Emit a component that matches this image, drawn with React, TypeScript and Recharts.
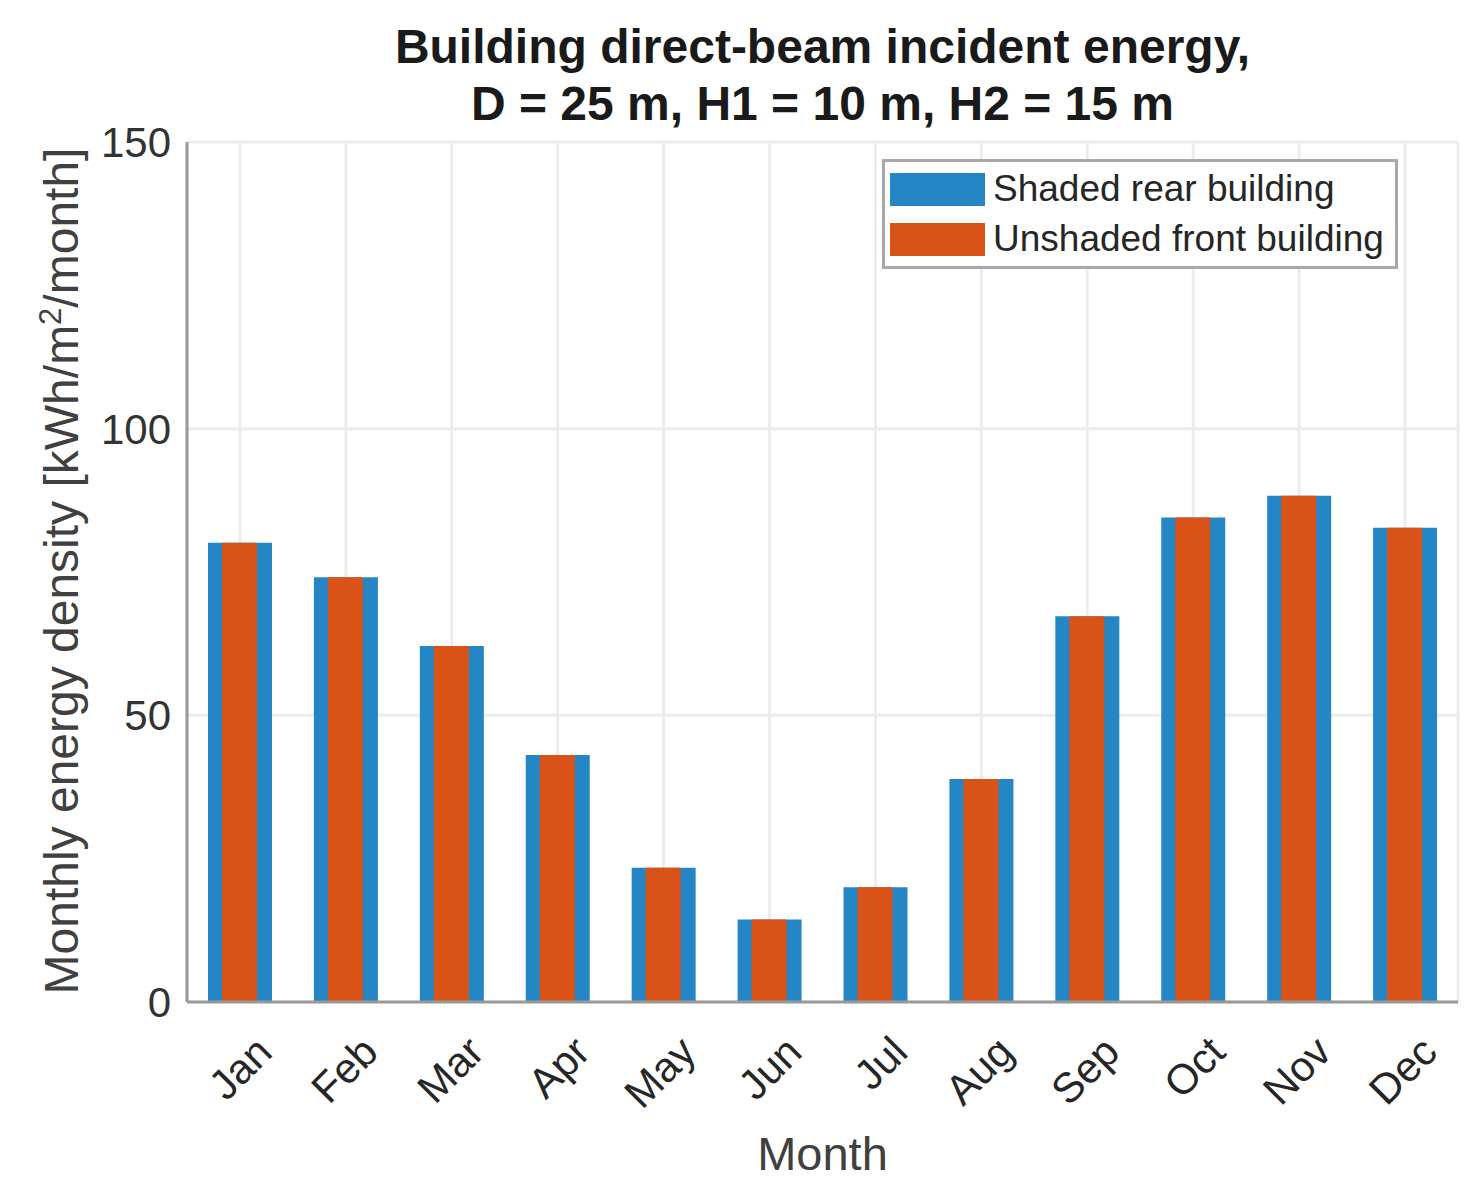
import {
  BarChart,
  Bar,
  XAxis,
  YAxis,
  CartesianGrid,
} from 'recharts';

// values (kWh/m2/month)
const months = ['Jan', 'Feb', 'Mar', 'Apr', 'May', 'Jun', 'Jul', 'Aug', 'Sep', 'Oct', 'Nov', 'Dec'];
const shadedRear = [80.1, 74.1, 62.1, 43.1, 23.4, 14.4, 20.0, 38.9, 67.3, 84.5, 88.3, 82.7];
const unshadedFront = [80.1, 74.1, 62.1, 43.1, 23.4, 14.4, 20.0, 38.9, 67.3, 84.5, 88.3, 82.7];
const yTicks = [0, 50, 100, 150];

const data = months.map((m, i) => ({
  month: m,
  shaded: shadedRear[i],
  unshaded: unshadedFront[i],
}));

const FONT = '"Liberation Sans", Arial, Helvetica, sans-serif';
const BLUE = '#2586c6';
const ORANGE = '#d95319';
const AXIS = '#9a9a9a';

function MonthTick(props: any) {
  const { x, y, payload } = props;
  const ax = x + 24;
  const ay = y + 42;
  return (
    <text
      x={ax}
      y={ay}
      dy="0.35em"
      textAnchor="end"
      transform={`rotate(-45 ${ax} ${ay})`}
      fontSize={42}
      fontFamily={FONT}
      fill="#262626"
    >
      {payload.value}
    </text>
  );
}

function LegendBox() {
  const row = (color: string, label: string) => (
    <div style={{ display: 'flex', alignItems: 'center', height: 50 }}>
      <div style={{ width: 95, height: 33, background: color, marginRight: 8, flexShrink: 0 }} />
      <span style={{ fontSize: 37, color: '#262626', whiteSpace: 'nowrap' }}>{label}</span>
    </div>
  );
  return (
    <div
      style={{
        position: 'absolute',
        left: 874,
        top: 151,
        border: '3px solid #a8a8a8',
        background: '#fff',
        padding: '2px 6px 2px 5px',
        fontFamily: FONT,
        width: 516,
        boxSizing: 'border-box',
      }}
    >
      {row(BLUE, 'Shaded rear building')}
      {row(ORANGE, 'Unshaded front building')}
    </div>
  );
}

export default function App() {
  return (
    <div style={{ position: 'relative', width: 1474, height: 1194, background: '#fff', fontFamily: FONT }}>
      <BarChart
        width={1474}
        height={1194}
        data={data}
        margin={{ top: 134, right: 24, left: 79, bottom: 110 }}
      >
        <CartesianGrid stroke="#ececec" strokeWidth={3} />
        <XAxis
          dataKey="month"
          height={90}
          interval={0}
          tickSize={0}
          tickMargin={0}
          tick={<MonthTick />}
          axisLine={{ stroke: AXIS, strokeWidth: 3 }}
          tickLine={false}
        />
        <XAxis dataKey="month" xAxisId="inner" hide />
        <XAxis
          dataKey="month"
          xAxisId="top"
          orientation="top"
          height={0}
          mirror
          tick={false}
          tickSize={10}
          axisLine={{ stroke: AXIS, strokeWidth: 3 }}
          tickLine={{ stroke: '#555', strokeWidth: 2 }}
        />
        <YAxis
          domain={[0, 150]}
          ticks={yTicks}
          width={100}
          tickSize={0}
          tickMargin={16}
          axisLine={{ stroke: AXIS, strokeWidth: 3 }}
          tickLine={false}
          tick={{ fontSize: 42, fontFamily: FONT, fill: '#333' }}
        />
        <YAxis
          yAxisId="right"
          orientation="right"
          domain={[0, 150]}
          ticks={yTicks}
          width={0}
          mirror
          tick={false}
          tickSize={10}
          axisLine={{ stroke: AXIS, strokeWidth: 3 }}
          tickLine={{ stroke: '#555', strokeWidth: 2 }}
        />
        <Bar dataKey="shaded" name="Shaded rear building" fill={BLUE} barSize={64} isAnimationActive={false} />
        <Bar
          dataKey="unshaded"
          name="Unshaded front building"
          xAxisId="inner"
          fill={ORANGE}
          barSize={35}
          isAnimationActive={false}
        />
      </BarChart>
      <div
        style={{
          position: 'absolute',
          left: 179,
          width: 1271,
          top: 10,
          textAlign: 'center',
          fontSize: 48,
          fontWeight: 'bold',
          lineHeight: '57px',
          color: '#1a1a1a',
        }}
      >
        Building direct-beam incident energy,
        <br />
        D = 25 m, H1 = 10 m, H2 = 15 m
      </div>
      <div
        style={{
          position: 'absolute',
          left: 54 - 500,
          top: 563 - 30,
          width: 1000,
          height: 60,
          lineHeight: '60px',
          textAlign: 'center',
          transform: 'rotate(-90deg)',
          fontSize: 48,
          color: '#404040',
          whiteSpace: 'nowrap',
        }}
      >
        Monthly energy density [kWh/m<sup style={{ fontSize: 31, verticalAlign: 'top', lineHeight: '38px' }}>2</sup>/month]
      </div>
      <div
        style={{
          position: 'absolute',
          left: 179,
          width: 1271,
          top: 1118,
          textAlign: 'center',
          fontSize: 47,
          color: '#404040',
        }}
      >
        Month
      </div>
      <LegendBox />
    </div>
  );
}
